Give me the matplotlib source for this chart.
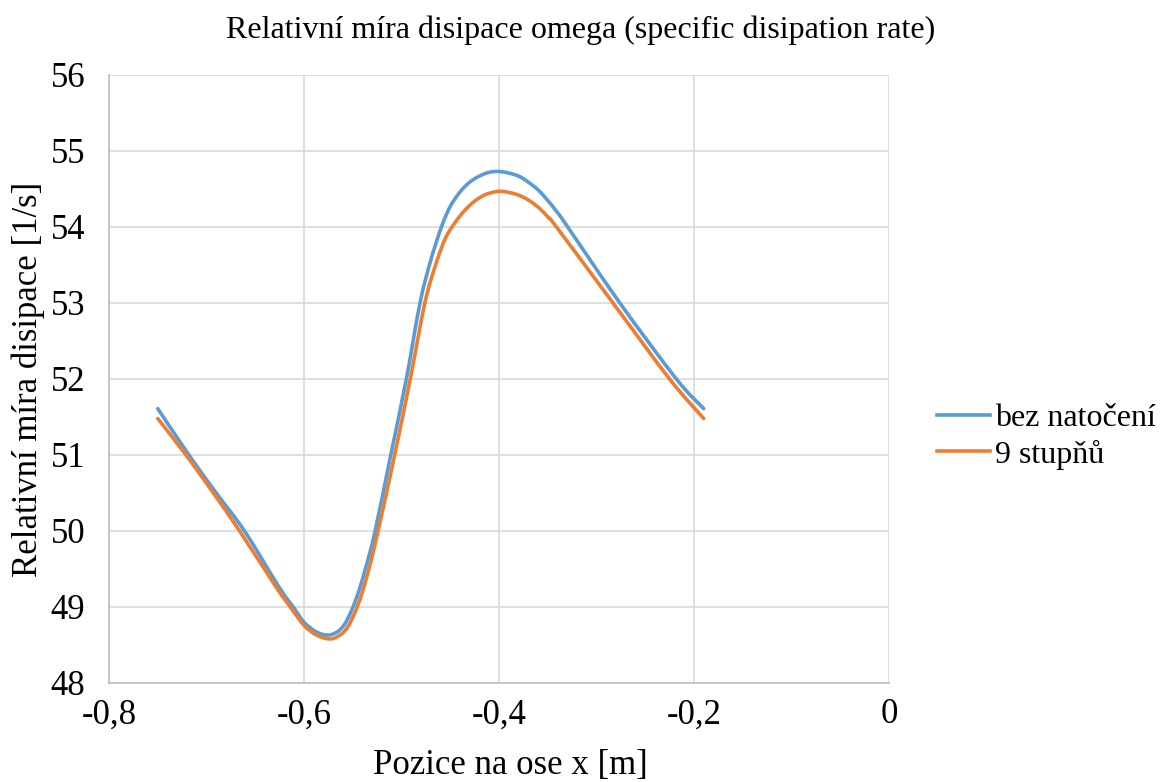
import matplotlib
matplotlib.use("Agg")
import matplotlib.pyplot as plt
from matplotlib.path import Path
from matplotlib.patches import PathPatch
from matplotlib.lines import Line2D
from matplotlib.ticker import FuncFormatter, MultipleLocator

# values
x_bez = [-0.750, -0.718, -0.690, -0.661, -0.625, -0.611, -0.600, -0.587, -0.575,
         -0.565, -0.558, -0.551, -0.544, -0.536, -0.527, -0.511, -0.495, -0.481,
         -0.470, -0.459, -0.450, -0.440, -0.430, -0.420, -0.410, -0.400, -0.390,
         -0.380, -0.372, -0.360, -0.350, -0.340, -0.330, -0.276, -0.218, -0.190]
y_bez = [51.61, 51.00, 50.50, 50.00, 49.25, 49.00, 48.80, 48.67, 48.63,
         48.68, 48.78, 48.96, 49.20, 49.55, 50.00, 51.00, 52.00, 53.00,
         53.56, 54.00, 54.27, 54.46, 54.59, 54.67, 54.72, 54.73, 54.71,
         54.67, 54.61, 54.49, 54.35, 54.19, 54.01, 53.00, 52.00, 51.61]

x_9st = [-0.750, -0.721, -0.693, -0.666, -0.628, -0.614, -0.600, -0.587, -0.573,
         -0.562, -0.555, -0.548, -0.541, -0.533, -0.524, -0.507, -0.491, -0.476,
         -0.465, -0.455, -0.445, -0.435, -0.425, -0.415, -0.405, -0.398, -0.388,
         -0.378, -0.368, -0.358, -0.349, -0.341, -0.283, -0.225, -0.190]
y_9st = [51.48, 51.00, 50.50, 50.00, 49.25, 49.00, 48.76, 48.63, 48.58,
         48.64, 48.74, 48.92, 49.16, 49.52, 50.00, 51.00, 52.00, 53.00,
         53.50, 53.85, 54.06, 54.22, 54.34, 54.42, 54.46, 54.47, 54.45,
         54.41, 54.34, 54.24, 54.12, 54.00, 53.00, 52.00, 51.48]

series_names = ["bez natočení", "9 stupňů"]
barvy = ['#5b9bd5', '#ed7d31']


def hladka_cesta(xs, ys):
    # Excel-like smoothed line: cubic Bezier segments through the points
    body = list(zip(xs, ys))
    verts = [body[0]]
    codes = [Path.MOVETO]
    n = len(body)
    for i in range(n - 1):
        p0 = body[i - 1] if i > 0 else body[i]
        p1 = body[i]
        p2 = body[i + 1]
        p3 = body[i + 2] if i + 2 < n else body[i + 1]
        c1 = (p1[0] + (p2[0] - p0[0]) / 6, p1[1] + (p2[1] - p0[1]) / 6)
        c2 = (p2[0] - (p3[0] - p1[0]) / 6, p2[1] - (p3[1] - p1[1]) / 6)
        verts += [c1, c2, p2]
        codes += [Path.CURVE4] * 3
    return Path(verts, codes)


plt.rcParams['font.family'] = ['Liberation Serif', 'DejaVu Serif']

fig = plt.figure(figsize=(11.62, 7.82), dpi=100)
ax = fig.add_axes([0.0938, 0.1266, 0.6712, 0.7775])

for xs, ys, c in [(x_bez, y_bez, barvy[0]), (x_9st, y_9st, barvy[1])]:
    ax.add_patch(PathPatch(hladka_cesta(xs, ys), facecolor='none', edgecolor=c,
                           linewidth=2.6, capstyle='round', joinstyle='round'))

ax.set_xlim(-0.8, 0)
ax.set_ylim(48, 56)
ax.xaxis.set_major_locator(MultipleLocator(0.2))
ax.yaxis.set_major_locator(MultipleLocator(1))
ax.xaxis.set_major_formatter(FuncFormatter(lambda v, p: ('%g' % round(v, 1)).replace('.', ',')))

ax.grid(True, color='#d9d9d9', linewidth=1.2)
ax.set_axisbelow(True)
for s in ['top', 'right']:
    ax.spines[s].set_visible(False)
for s in ['left', 'bottom']:
    ax.spines[s].set_color('#bfbfbf')
    ax.spines[s].set_linewidth(1.2)
ax.tick_params(length=0, labelsize=25)
ax.tick_params(axis='x', pad=11)
ax.tick_params(axis='y', pad=17)

fig.text(0.5, 0.961, 'Relativní míra disipace omega (specific disipation rate)',
         fontsize=23, ha='center', va='center')
ax.set_xlabel('Pozice na ose x [m]', fontsize=25, va='center')
ax.xaxis.set_label_coords(0.514, -0.135)
ax.set_ylabel('Relativní míra disipace [1/s]', fontsize=25, labelpad=4)

handles = [Line2D([], [], color=c, linewidth=2.6) for c in barvy]
ax.legend(handles, series_names, loc='center left', bbox_to_anchor=(1.0615, 0.405),
          frameon=False, fontsize=23, handlelength=1.66, handletextpad=0.15,
          labelspacing=0.2, borderpad=0, borderaxespad=0)

fig.savefig('out.png', dpi=100)
